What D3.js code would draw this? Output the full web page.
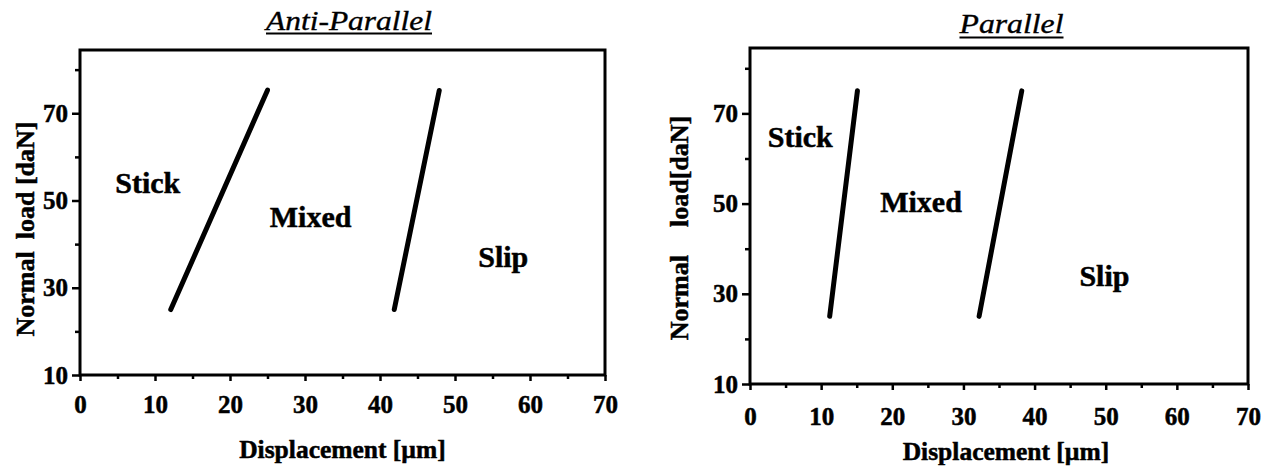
<!DOCTYPE html>
<html>
<head>
<meta charset="utf-8">
<script src="https://cdn.jsdelivr.net/npm/d3@7"></script>
<style>
  html, body { margin: 0; padding: 0; background: #fff; }
  svg { display: block; }
  text { font-family: "Liberation Serif", "Times New Roman", serif; fill: #000; }
</style>
</head>
<body>
<svg id="chart" width="1273" height="471"></svg>
<script>
// ---------- data ----------
const xTicks = [0, 10, 20, 30, 40, 50, 60, 70];
const xMinorTicks = [5, 15, 25, 35, 45, 55, 65];
const yTicks = [10, 30, 50, 70];
const yMinorTicks = [20, 40, 60, 80];
const xDomain = [0, 70];
const yDomain = [10, 84.5];

const antiTitle = "Anti-Parallel";
const parTitle = "Parallel";
const xLabel = "Displacement [µm]";
const yLabelA = ["Normal", "load [daN]"];
const yLabelB = ["Normal", "load[daN]"];

// boundary lines (displacement µm, normal load daN)
const antiStickMixed = [{x: 12.1, y: 25}, {x: 25.0, y: 75.3}];
const antiMixedSlip  = [{x: 41.9, y: 25}, {x: 47.9, y: 75.2}];
const parStickMixed  = [{x: 11.2, y: 25}, {x: 15.1, y: 75}];
const parMixedSlip   = [{x: 32.2, y: 25}, {x: 38.2, y: 75}];

// region labels
const antiRegions = [
  {name: "Stick", x: 4.7, y: 51.7},
  {name: "Mixed", x: 25.3, y: 44.0},
  {name: "Slip",  x: 53.1, y: 34.8}
];
const parRegions = [
  {name: "Stick", x: 2.5, y: 62.6},
  {name: "Mixed", x: 18.3, y: 48.2},
  {name: "Slip",  x: 46.3, y: 31.7}
];

// ---------- drawing ----------
const svg = d3.select("#chart");
const serif = '"Liberation Serif", "Times New Roman", serif';

function styleTickText(sel) {
  sel.selectAll("text")
    .attr("fill", "#000")
    .attr("stroke", "#000").attr("stroke-width", 0.5)
    .style("font-size", "25px")
    .style("font-weight", "bold")
    .style("font-family", serif);
}

function drawPanel(cfg) {
  const x = d3.scaleLinear().domain(xDomain).range([cfg.left, cfg.right]);
  const y = d3.scaleLinear().domain(yDomain).range([cfg.bottom, cfg.top]);
  const g = svg.append("g");

  // minor ticks
  g.append("g")
    .attr("transform", `translate(0,${cfg.bottom})`)
    .call(d3.axisBottom(x).tickValues(xMinorTicks).tickSize(4).tickSizeOuter(0).tickFormat(""))
    .call(s => s.select(".domain").remove())
    .call(s => s.selectAll("line").attr("stroke", "#000").attr("stroke-width", 2.5));
  g.append("g")
    .attr("transform", `translate(${cfg.left},0)`)
    .call(d3.axisLeft(y).tickValues(yMinorTicks).tickSize(5).tickSizeOuter(0).tickFormat(""))
    .call(s => s.select(".domain").remove())
    .call(s => s.selectAll("line").attr("stroke", "#000").attr("stroke-width", 2.5));

  // major x axis
  const xa = g.append("g")
    .attr("transform", `translate(0,${cfg.bottom})`)
    .call(d3.axisBottom(x).tickValues(xTicks).tickSize(6).tickSizeOuter(0).tickPadding(cfg.xPad).tickFormat(d3.format("d")));
  xa.select(".domain").remove();
  xa.selectAll("line").attr("stroke", "#000").attr("stroke-width", 2.5);
  styleTickText(xa);

  // major y axis
  const ya = g.append("g")
    .attr("transform", `translate(${cfg.left},0)`)
    .call(d3.axisLeft(y).tickValues(yTicks).tickSize(8).tickSizeOuter(0).tickPadding(4).tickFormat(d3.format("d")));
  ya.select(".domain").remove();
  ya.selectAll("line").attr("stroke", "#000").attr("stroke-width", 2.5);
  styleTickText(ya);

  // frame
  g.append("rect")
    .attr("x", x(xDomain[0])).attr("y", y(yDomain[1]))
    .attr("width", x(xDomain[1]) - x(xDomain[0]))
    .attr("height", y(yDomain[0]) - y(yDomain[1]))
    .attr("fill", "none").attr("stroke", "#000").attr("stroke-width", 3);

  // boundary lines
  const line = d3.line().x(d => x(d.x)).y(d => y(d.y));
  cfg.lines.forEach(l => {
    g.append("path").attr("d", line(l))
      .attr("fill", "none").attr("stroke", "#000")
      .attr("stroke-width", 5).attr("stroke-linecap", "round");
  });

  // region labels
  g.selectAll("text.region").data(cfg.regions).enter().append("text")
    .attr("class", "region")
    .attr("x", d => x(d.x)).attr("y", d => y(d.y))
    .attr("stroke", "#000").attr("stroke-width", 0.5)
    .style("font-size", "30px").style("font-weight", "bold")
    .text(d => d.name);

  // title (italic, underlined)
  g.append("text")
    .attr("x", cfg.titleX).attr("y", cfg.titleY)
    .attr("text-anchor", "middle")
    .attr("textLength", cfg.titleW).attr("lengthAdjust", "spacingAndGlyphs")
    .attr("stroke", "#000").attr("stroke-width", 0.35)
    .style("font-size", "27px").style("font-style", "italic")
    .text(cfg.title);
  g.append("line")
    .attr("x1", cfg.titleX - cfg.titleW / 2).attr("x2", cfg.titleX + cfg.titleW / 2)
    .attr("y1", cfg.titleY + cfg.ulOff).attr("y2", cfg.titleY + cfg.ulOff)
    .attr("stroke", "#000").attr("stroke-width", 1.8);

  // x label
  g.append("text")
    .attr("x", (cfg.left + cfg.right) / 2 + cfg.xLabelDx).attr("y", cfg.xLabelY)
    .attr("text-anchor", "middle")
    .attr("stroke", "#000").attr("stroke-width", 0.5)
    .style("font-size", "25.5px").style("font-weight", "bold")
    .text(xLabel);

  // y label
  const yl = g.append("text")
    .attr("transform", `translate(${cfg.yLabelX},${cfg.yLabelY}) rotate(-90)`)
    .attr("text-anchor", "middle")
    .attr("stroke", "#000").attr("stroke-width", 0.5)
    .style("font-size", "26px").style("font-weight", "bold");
  yl.append("tspan").text(cfg.yLabel[0]);
  yl.append("tspan").attr("dx", cfg.yGap).text(cfg.yLabel[1]);
}

drawPanel({
  left: 80, right: 605, top: 50, bottom: 375,
  xPad: 14,
  lines: [antiStickMixed, antiMixedSlip],
  regions: antiRegions,
  title: antiTitle, titleX: 349, titleY: 30, titleW: 166, ulOff: 3.5,
  xLabelDx: 0, xLabelY: 458,
  yLabel: yLabelA, yLabelX: 34, yLabelY: 229, yGap: 12
});

drawPanel({
  left: 750, right: 1248, top: 48, bottom: 384,
  xPad: 17,
  lines: [parStickMixed, parMixedSlip],
  regions: parRegions,
  title: parTitle, titleX: 1011.5, titleY: 33, titleW: 104, ulOff: 4.5,
  xLabelDx: 7, xLabelY: 460,
  yLabel: yLabelB, yLabelX: 688, yLabelY: 228, yGap: 28
});
</script>
</body>
</html>
